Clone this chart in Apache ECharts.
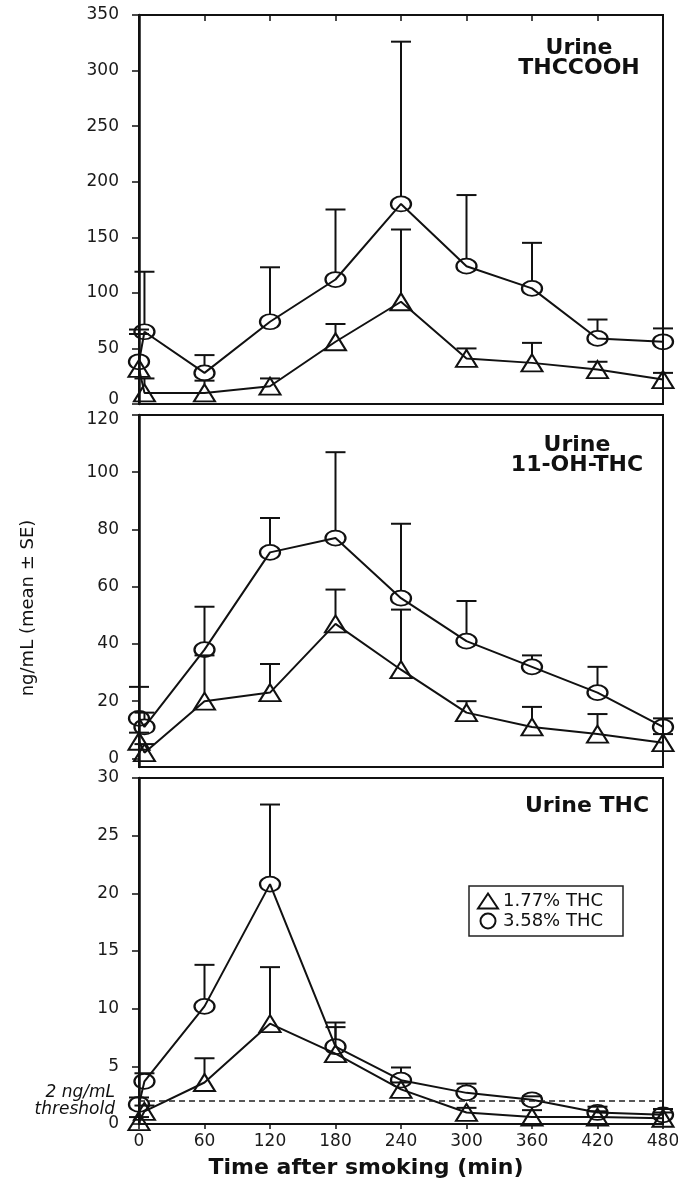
<!DOCTYPE html>
<html>
<head>
<meta charset="utf-8">
<script src="https://cdn.jsdelivr.net/npm/echarts@6/dist/echarts.min.js"></script>
<style>
  html, body { margin: 0; padding: 0; background: #fff; }
  #chart { width: 678px; height: 1187px; }
</style>
</head>
<body>
<div id="chart"></div>
<script>
// Sampling times (min after smoking) and x tick labels
const minutes = [0, 5, 60, 120, 180, 240, 300, 360, 420, 480];
const xTicks = [0, 60, 120, 180, 240, 300, 360, 420, 480];
const doseNames = ['1.77% THC', '3.58% THC'];

// Urine THCCOOH, ng/mL (mean and SE)
const thccoohLow = [32, 10, 10, 16, 56, 92, 41, 37, 31, 22];
const thccoohLowSe = [31, 13, 11, 7, 16, 65, 9, 18, 7, 6];
const thccoohHigh = [38, 65, 28, 74, 112, 180, 124, 104, 59, 56];
const thccoohHighSe = [29, 54, 16, 49, 63, 146, 64, 41, 17, 12];
const thccoohTicks = [0, 50, 100, 150, 200, 250, 300, 350];

// Urine 11-OH-THC, ng/mL (mean and SE)
const ohthcLow = [6, 2, 20, 23, 47, 31, 16, 11, 8.5, 5.5];
const ohthcLowSe = [3, 3, 16, 10, 12, 21, 4, 7, 7, 3];
const ohthcHigh = [14, 11, 38, 72, 77, 56, 41, 32, 23, 11];
const ohthcHighSe = [11, 5, 15, 12, 30, 26, 14, 4, 9, 3];
const ohthcTicks = [0, 20, 40, 60, 80, 100, 120];

// Urine THC, ng/mL (mean and SE)
const thcLow = [0.2, 1.1, 3.6, 8.7, 6.1, 3.0, 1.0, 0.6, 0.6, 0.5];
const thcLowSe = [0.4, 0.5, 2.1, 4.9, 2.3, 0.6, 0.4, 0.6, 0.5, 0.5];
const thcHigh = [1.7, 3.7, 10.2, 20.8, 6.7, 3.8, 2.7, 2.1, 1.0, 0.8];
const thcHighSe = [0.6, 0.7, 3.6, 6.9, 2.1, 1.1, 0.8, 0.3, 0.5, 0.5];
const thcTicks = [0, 5, 10, 15, 20, 25, 30];
const threshold = 2;

const FONT = '"DejaVu Sans", "Liberation Sans", sans-serif';
const INK = '#111';

// stacked panels: the label nudges keep the shared-edge labels (0 above, 120 below) apart
const panels = [
  { title: 'Urine\nTHCCOOH', low: thccoohLow, lowSe: thccoohLowSe, high: thccoohHigh, highSe: thccoohHighSe,
    ticks: thccoohTicks, min: 0, max: 350, grid: { left: 139, top: 15, width: 524, height: 389 },
    titlePos: [579, 58], nudgeMin: true, nudgeMax: false },
  { title: 'Urine\n11-OH-THC', low: ohthcLow, lowSe: ohthcLowSe, high: ohthcHigh, highSe: ohthcHighSe,
    ticks: ohthcTicks, min: -3, max: 120, grid: { left: 139, top: 415, width: 524, height: 352 },
    titlePos: [577, 455], nudgeMin: false, nudgeMax: true },
  { title: 'Urine THC', low: thcLow, lowSe: thcLowSe, high: thcHigh, highSe: thcHighSe,
    ticks: thcTicks, min: 0, max: 30, grid: { left: 139, top: 778, width: 524, height: 346 },
    titlePos: [587, 806], nudgeMin: false, nudgeMax: false }
];

const markerStyle = { color: 'rgba(0,0,0,0)', borderColor: INK, borderWidth: 2 };
const triSize = [21, 17];
const circSize = [20, 15];

// upper-only error bars: vertical stem from the marker top to mean+SE, with a cap
function errorBars(idx, means, ses, halfH) {
  return {
    type: 'custom',
    name: 'se-' + idx + '-' + halfH,
    xAxisIndex: idx,
    yAxisIndex: idx,
    silent: true,
    z: 3,
    data: minutes.map((t, i) => [t, means[i], means[i] + ses[i]]),
    renderItem(params, api) {
      const base = api.coord([api.value(0), api.value(1)]);
      const top = api.coord([api.value(0), api.value(2)]);
      const y0 = base[1] - halfH;
      const children = [];
      const st = { stroke: INK, lineWidth: 2 };
      if (top[1] < y0) {
        children.push({ type: 'line', shape: { x1: base[0], y1: y0, x2: base[0], y2: top[1] }, style: st });
      }
      children.push({ type: 'line', shape: { x1: top[0] - 10, y1: top[1], x2: top[0] + 10, y2: top[1] }, style: st });
      return { type: 'group', children };
    }
  };
}

function lineSeries(idx, name, values, symbol, size, extra) {
  return Object.assign({
    type: 'line',
    name,
    xAxisIndex: idx,
    yAxisIndex: idx,
    data: minutes.map((t, i) => [t, values[i]]),
    symbol,
    symbolSize: size,
    showAllSymbol: true,
    itemStyle: markerStyle,
    lineStyle: { color: INK, width: 2 },
    z: 4,
    emphasis: { disabled: true }
  }, extra || {});
}

const grids = [], xAxes = [], yAxes = [], series = [], graphics = [];

panels.forEach((p, idx) => {
  grids.push(Object.assign({ show: true, borderColor: INK, borderWidth: 2, containLabel: false,
    outerBoundsMode: 'none' }, p.grid));
  const isLast = idx === panels.length - 1;
  const first = p.ticks[0], last = p.ticks[p.ticks.length - 1];
  xAxes.push({
    type: 'value', gridIndex: idx, min: 0, max: 480, interval: 60,
    axisLine: { show: true, onZero: false, lineStyle: { color: INK, width: 2 } },
    axisTick: { show: isLast, length: 5, lineStyle: { color: INK, width: 1.5 } },
    axisLabel: { show: isLast, margin: 9, fontSize: 17, fontFamily: FONT, color: '#1a1a1a',
      hideOverlap: false, customValues: xTicks },
    splitLine: { show: false }
  });
  yAxes.push({
    type: 'value', gridIndex: idx, min: p.min, max: p.max,
    axisLine: { show: true, onZero: false, lineStyle: { color: INK, width: 2.5 } },
    axisTick: { show: true, length: 7, lineStyle: { color: INK, width: 1.5 }, customValues: p.ticks },
    axisLabel: {
      margin: 20, fontSize: 17, fontFamily: FONT, color: '#1a1a1a', hideOverlap: false,
      showMinLabel: true, showMaxLabel: true, customValues: p.ticks,
      formatter(v) {
        if (p.nudgeMin && v === first) return '{up|' + v + '}';
        if (p.nudgeMax && v === last) return '{down|' + v + '}';
        return String(v);
      },
      rich: {
        up: { fontSize: 17, fontFamily: FONT, color: '#1a1a1a', padding: [0, 0, 8, 0] },
        down: { fontSize: 17, fontFamily: FONT, color: '#1a1a1a', padding: [10, 0, 0, 0] }
      }
    },
    splitLine: { show: false }
  });

  const extraHigh = isLast ? {
    markLine: {
      silent: true,
      animation: false,
      symbol: ['none', 'none'],
      data: [{ yAxis: threshold }],
      lineStyle: { type: [6, 4], color: '#222', width: 1.5 },
      label: {
        show: true, position: 'start', distance: 24,
        formatter: threshold + ' ng/mL\nthreshold',
        fontStyle: 'italic', fontFamily: FONT, fontSize: 17, lineHeight: 17, color: INK
      }
    }
  } : null;

  series.push(lineSeries(idx, doseNames[0], p.low, 'triangle', triSize));
  series.push(lineSeries(idx, doseNames[1], p.high, 'circle', circSize, extraHigh));
  series.push(errorBars(idx, p.low, p.lowSe, triSize[1] / 2));
  series.push(errorBars(idx, p.high, p.highSe, circSize[1] / 2));

  graphics.push({
    type: 'text', x: p.titlePos[0], y: p.titlePos[1], silent: true,
    style: { text: p.title, textAlign: 'center', textVerticalAlign: 'middle', lineHeight: 20,
      font: 'bold 22px ' + FONT, fill: INK }
  });
});

// inward ticks along the top edge of the first panel
xAxes.push({
  type: 'value', gridIndex: 0, position: 'top', min: 0, max: 480, interval: 60,
  axisLine: { show: true, onZero: false, lineStyle: { color: INK, width: 2 } },
  axisTick: { show: true, inside: true, length: 6, lineStyle: { color: INK, width: 1.5 } },
  axisLabel: { show: false },
  splitLine: { show: false }
});

graphics.push({
  type: 'text', x: 28, y: 608, rotation: Math.PI / 2, silent: true,
  style: { text: 'ng/mL (mean ± SE)', textAlign: 'center', textVerticalAlign: 'middle',
    font: '18px ' + FONT, fill: INK }
});
graphics.push({
  type: 'text', x: 366, y: 1168, silent: true,
  style: { text: 'Time after smoking (min)', textAlign: 'center', textVerticalAlign: 'middle',
    font: 'bold 22px ' + FONT, fill: INK }
});

const chart = echarts.init(document.getElementById('chart'), null, { renderer: 'canvas' });
chart.setOption({
  animation: false,
  backgroundColor: '#fff',
  textStyle: { fontFamily: FONT },
  grid: grids,
  xAxis: xAxes,
  yAxis: yAxes,
  legend: {
    left: 469, top: 886, orient: 'vertical',
    padding: [6, 20, 6, 8],
    itemGap: 2, itemWidth: 20, itemHeight: 15,
    borderColor: '#222', borderWidth: 1.5,
    selectedMode: false,
    itemStyle: { color: 'rgba(0,0,0,0)', borderColor: INK, borderWidth: 2 },
    textStyle: { fontFamily: FONT, fontSize: 18, lineHeight: 18, color: INK },
    data: [{ name: doseNames[0], icon: 'triangle' }, { name: doseNames[1], icon: 'circle' }]
  },
  series,
  graphic: graphics
});
</script>
</body>
</html>
